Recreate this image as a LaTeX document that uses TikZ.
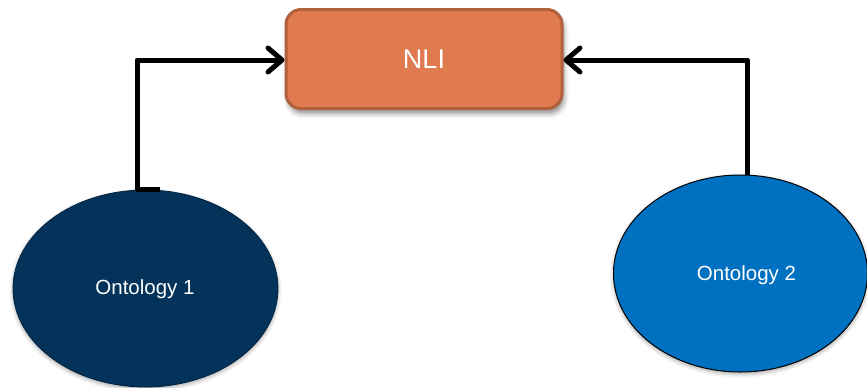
\documentclass[tikz,border=0pt]{standalone}
\usepackage{fontspec}
\setmainfont{Liberation Sans}
\usetikzlibrary{shapes.geometric,arrows.meta,shadows.blur}

\definecolor{nlifill}{HTML}{E07B4F}
\definecolor{nliedge}{HTML}{B0603A}
\definecolor{ontoA}{HTML}{03325A}
\definecolor{ontoAedge}{HTML}{01223D}
\definecolor{ontoB}{HTML}{0070C0}

\tikzset{
  procbox/.style={draw=nliedge, line width=3pt, fill=nlifill, rounded corners=15pt,
    minimum width=276pt, minimum height=99pt, inner sep=0pt,
    text=white, font=\fontsize{27}{31}\selectfont,
    blur shadow={shadow xshift=2pt, shadow yshift=-5pt, shadow blur radius=5pt, shadow opacity=45}},
  onto/.style={ellipse, minimum width=#1, minimum height=197pt, inner sep=0pt,
    blur shadow={shadow xshift=0pt, shadow yshift=-2pt, shadow blur radius=4pt, shadow opacity=35}},
  ontolabel/.style={text=white, font=\fontsize{20.5}{24}\selectfont},
  conn/.style={line width=5pt, line join=round, line cap=butt,
    -{Straight Barb[length=14pt, width=24pt, line cap=round, line join=round]}},
}

\begin{document}
\begin{tikzpicture}[x=1pt, y=-1pt]
  \useasboundingbox (0,0) rectangle (867,388);

  % processing node
  \node[procbox] (nli) at (424,59) {NLI};

  % the two source ontologies
  \node[onto=265pt, fill=ontoA, draw=ontoAedge, line width=0.8pt] (o1) at (145.5,288.5) {};
  \node[ontolabel] (t1) at (145,289) {Ontology 1};
  \node[onto=254pt, fill=ontoB, draw=black, line width=1pt] (o2) at (740.5,273.5) {};
  \node[ontolabel] (t2) at (746.5,275) {Ontology 2};

  % connectors into the NLI box
  \coordinate (s1) at (160,189);
  \draw[conn] (s1) -- ++(-23,0) |- ([yshift=-1pt]nli.west);
  \draw[conn] ([xshift=7pt]o2.north) |- ([yshift=-1pt]nli.east);
\end{tikzpicture}
\end{document}
